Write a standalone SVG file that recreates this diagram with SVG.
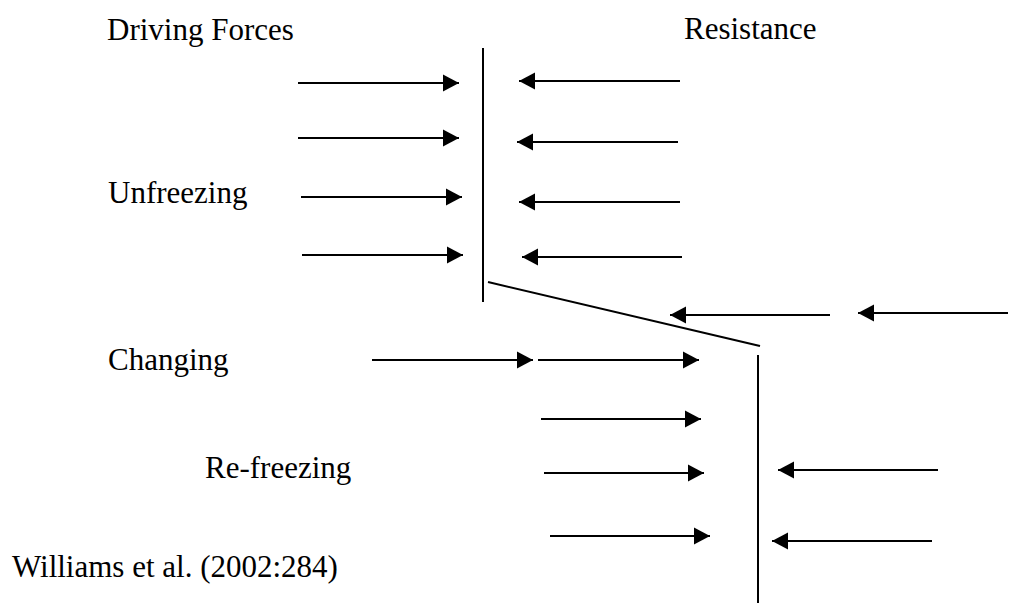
<svg xmlns="http://www.w3.org/2000/svg" width="1009" height="605" viewBox="0 0 1009 605">
<style>
  text { font-family: "Liberation Serif", "Times New Roman", serif; font-size: 31px; fill: #000; }
  .arr { stroke: #000; stroke-width: 2; fill: none; marker-end: url(#head); }
  .bar { stroke: #000; stroke-width: 2; fill: none; }
</style>
<defs>
  <marker id="head" markerUnits="userSpaceOnUse" markerWidth="18" markerHeight="18" refX="16" refY="8.5" orient="auto" overflow="visible">
    <path d="M0,0 L16,8.5 L0,17 z" fill="#000"/>
  </marker>
</defs>
<rect width="1009" height="605" fill="#fff"/>
<g id="labels">
  <g id="driving-forces"><text x="107" y="40">Driving Forces</text></g>
  <g id="resistance"><text x="684" y="39">Resistance</text></g>
  <g id="unfreezing"><text x="108" y="203">Unfreezing</text></g>
  <g id="changing"><text x="108" y="370">Changing</text></g>
  <g id="refreezing"><text x="205" y="478">Re-freezing</text></g>
  <g id="citation"><text x="12" y="577">Williams et al. (2002:284)</text></g>
</g>
<g id="barriers">
  <line class="bar" x1="483" y1="48" x2="483" y2="302"/>
  <line class="bar" x1="488" y1="282" x2="760" y2="346" stroke-width="1.6"/>
  <line class="bar" x1="758" y1="355" x2="758" y2="603"/>
</g>
<g id="connectors">
  <line class="arr" x1="298" y1="83" x2="459" y2="83"/>
  <line class="arr" x1="298" y1="138" x2="459" y2="138"/>
  <line class="arr" x1="301" y1="197" x2="462" y2="197"/>
  <line class="arr" x1="302" y1="255" x2="463" y2="255"/>
  <line class="arr" x1="680" y1="81" x2="519" y2="81"/>
  <line class="arr" x1="678" y1="142" x2="517" y2="142"/>
  <line class="arr" x1="680" y1="202" x2="519" y2="202"/>
  <line class="arr" x1="682" y1="257" x2="522" y2="257"/>
  <line class="arr" x1="830" y1="315" x2="670" y2="315"/>
  <line class="arr" x1="1008" y1="313" x2="858" y2="313"/>
  <line class="arr" x1="372" y1="360" x2="533" y2="360"/>
  <line class="arr" x1="538" y1="360" x2="699" y2="360"/>
  <line class="arr" x1="541" y1="419" x2="701" y2="419"/>
  <line class="arr" x1="544" y1="473" x2="704" y2="473"/>
  <line class="arr" x1="550" y1="536" x2="710" y2="536"/>
  <line class="arr" x1="938" y1="470" x2="778" y2="470"/>
  <line class="arr" x1="932" y1="541" x2="772" y2="541"/>
</g>
</svg>
